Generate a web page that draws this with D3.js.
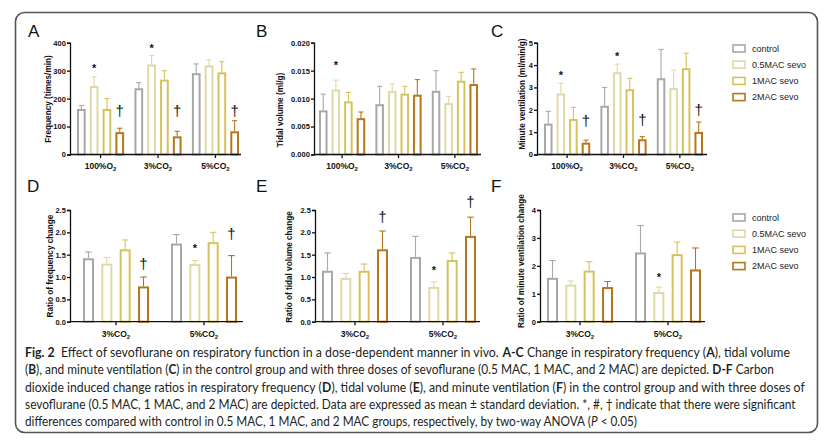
<!DOCTYPE html>
<html><head><meta charset="utf-8">
<script src="https://cdn.jsdelivr.net/npm/d3@7"></script>
<style>
body{margin:0;background:#fff;}
svg{display:block;}
.tick text{font-family:"Liberation Sans",Arial,sans-serif;font-weight:bold;font-size:7.5px;fill:#111;}
</style></head><body>
<svg id="c" width="827" height="443"></svg>
<script>
// ---------- DATA ----------
const series = ["control","0.5MAC sevo","1MAC sevo","2MAC sevo"];
const colors = ["#a8a8a8","#ded9a6","#d6c25c","#b4771d"];
const catsTop = ["100%O2","3%CO2","5%CO2"];
const catsBottom = ["3%CO2","5%CO2"];

// rows = series, columns = categories
const freqMean = [[163,237,291],[245,322,319],[163,268,294],[80,65,83]];
const freqSD   = [[12,20,33],[33,32,20],[37,32,38],[14,18,38]];
const tidalMean = [[0.0079,0.0090,0.0114],[0.0116,0.0114,0.0092],[0.0095,0.0109,0.0132],[0.0065,0.0107,0.0126]];
const tidalSD   = [[0.0029,0.0032,0.0036],[0.0017,0.0012,0.0012],[0.0016,0.0013,0.0015],[0.0011,0.0027,0.0027]];
const mvMean = [[1.38,2.18,3.41],[2.73,3.68,2.97],[1.59,2.92,3.86],[0.53,0.68,1.01]];
const mvSD   = [[0.55,0.82,1.29],[0.45,0.36,0.81],[0.52,0.49,0.67],[0.11,0.12,0.44]];
const rFreqMean = [[1.42,1.75],[1.30,1.29],[1.62,1.78],[0.79,1.01]];
const rFreqSD   = [[0.14,0.20],[0.14,0.08],[0.21,0.22],[0.21,0.47]];
const rTidalMean = [[1.14,1.45],[0.98,0.78],[1.14,1.38],[1.62,1.92]];
const rTidalSD   = [[0.40,0.46],[0.10,0.11],[0.15,0.16],[0.41,0.42]];
const rMvMean = [[1.57,2.48],[1.33,1.06],[1.83,2.42],[1.24,1.87]];
const rMvSD   = [[0.62,0.96],[0.13,0.18],[0.32,0.43],[0.20,0.77]];

const ticksA = [0,100,200,300,400];
const ticksB = [0,0.005,0.010,0.015,0.020];
const ticksC = [0,1,2,3,4,5];
const ticksD = [0,0.5,1.0,1.5,2.0,2.5];
const ticksE = [0,0.5,1.0,1.5,2.0,2.5];
const ticksF = [0,1,2,3,4];

// significance marks: category index, series index, symbol, level (data units)
const marksA = [[0,1,"*",319],[1,1,"*",388],[0,3,"†",154],[1,3,"†",154],[2,3,"†",154]];
const marksB = [[0,1,"*",0.0164]];
const marksC = [[0,1,"*",3.68],[1,1,"*",4.53],[0,3,"†",1.48],[1,3,"†",1.51],[2,3,"†",1.96]];
const marksD = [[0,3,"†",1.27],[1,1,"*",1.71],[1,3,"†",1.94]];
const marksE = [[0,3,"†",2.33],[1,1,"*",1.21],[1,3,"†",2.66]];
const marksF = [[1,1,"*",1.67]];

const captionLines = [
 [["Fig. 2","b"],["  Effect of sevoflurane on respiratory function in a dose-dependent manner in vivo. ",""],["A-C","b"],[" Change in respiratory frequency (",""],["A","b"],["), tidal volume",""]],
 [["(",""],["B","b"],["), and minute ventilation (",""],["C","b"],[") in the control group and with three doses of sevoflurane (0.5 MAC, 1 MAC, and 2 MAC) are depicted. ",""],["D-F","b"],[" Carbon",""]],
 [["dioxide induced change ratios in respiratory frequency (",""],["D","b"],["), tidal volume (",""],["E","b"],["), and minute ventilation (",""],["F","b"],[") in the control group and with three doses of",""]],
 [["sevoflurane (0.5 MAC, 1 MAC, and 2 MAC) are depicted. Data are expressed as mean ± standard deviation. *, #, † indicate that there were significant",""]],
 [["differences compared with control in 0.5 MAC, 1 MAC, and 2 MAC groups, respectively, by two-way ANOVA (",""],["P","i"],[" < 0.05)",""]]
];

// ---------- DRAW ----------
const svg = d3.select("#c");
const FONT = '"Liberation Sans", Arial, sans-serif';

svg.append("rect").attr("x",15.5).attr("y",12.5).attr("width",802).attr("height",420)
  .attr("rx",9).attr("fill","none").attr("stroke","#555").attr("stroke-width",1.6);

function catLabel(sel, c){
  sel.text(null);
  sel.append("tspan").text(c.slice(0,-1));
  sel.append("tspan").attr("font-size","6px").attr("dy","2.5").text(c.slice(-1));
}

function panel(o){
  const g = svg.append("g");
  const y = d3.scaleLinear().domain([o.ticks[0], o.ticks[o.ticks.length-1]]).range([o.yBot,o.yTop]);
  const x0 = d3.scaleBand().domain(o.cats).range([o.bandStart,o.bandEnd]).paddingInner(o.padG).paddingOuter(0);
  const x1 = d3.scaleBand().domain(d3.range(series.length)).range([0,x0.bandwidth()]).paddingInner(o.padS).paddingOuter(0);
  const bw = x1.bandwidth();
  o.mean.forEach((row,si)=>{
    row.forEach((v,ci)=>{
      const cx = x0(o.cats[ci]) + x1(si);
      const sd = o.sd[si][ci];
      const mid = cx + bw/2;
      g.append("line").attr("x1",mid).attr("x2",mid).attr("y1",y(v)).attr("y2",y(v+sd))
        .attr("stroke",colors[si]).attr("stroke-width",1.1);
      g.append("line").attr("x1",mid-bw*0.3).attr("x2",mid+bw*0.3).attr("y1",y(v+sd)).attr("y2",y(v+sd))
        .attr("stroke",colors[si]).attr("stroke-width",1.1);
      g.append("rect").attr("x",cx+1).attr("width",bw-2).attr("y",y(v)+1).attr("height",y(0)-y(v)-1)
        .attr("fill","#fff").attr("stroke",colors[si]).attr("stroke-width",2);
    });
  });
  o.marks.forEach(([ci,si,sym,lev])=>{
    const mid = x0(o.cats[ci]) + x1(si) + bw/2;
    const star = sym==="*";
    g.append("text").attr("x",mid).attr("y",y(lev) + (star?6.3:4.2))
      .attr("text-anchor","middle").attr("font-family",FONT)
      .attr("font-size", star?"11px":"15px").attr("font-weight", star?"bold":"normal")
      .attr("fill","#111").text(sym);
  });
  const ya = g.append("g").attr("transform",`translate(${o.axisX},0)`)
    .call(d3.axisLeft(y).tickValues(o.ticks).tickFormat(d3.format(o.fmt)).tickSize(3).tickPadding(1.2));
  ya.selectAll("path,line").attr("stroke","#111").attr("stroke-width",1.3);
  const xa = g.append("g").attr("transform",`translate(0,${o.yBot})`);
  xa.append("line").attr("x1",o.axisX).attr("x2",o.axisEnd).attr("stroke","#111").attr("stroke-width",1.3);
  o.cats.forEach(c=>{
    const cx = x0(c)+x0.bandwidth()/2;
    xa.append("line").attr("x1",cx).attr("x2",cx).attr("y1",0).attr("y2",3.5).attr("stroke","#111").attr("stroke-width",1.3);
    xa.append("text").attr("x",cx).attr("y",o.labelDy).attr("text-anchor","middle")
      .attr("font-family",FONT).attr("font-weight","bold").attr("font-size","8.5px").attr("fill","#111")
      .call(catLabel,c);
  });
  g.append("text").attr("transform",`translate(${o.titleX},${o.titleY})rotate(-90)`)
    .attr("text-anchor","middle").attr("font-family",FONT).attr("font-weight","bold")
    .attr("font-size","8.2px").attr("fill","#111").text(o.title);
  g.append("text").attr("x",o.letterX).attr("y",o.letterY).attr("font-family",FONT)
    .attr("font-size","17px").attr("fill","#111").text(o.letter);
}

const topRow = {yTop:42.7, yBot:154.5, padG:0.18, padS:0.32, labelDy:14, letterY:37};
const botRow = {yTop:210, yBot:321.7, padG:0.25, padS:0.4, labelDy:15, letterY:192};

panel(Object.assign({},topRow,{letter:"A",letterX:28,cats:catsTop,mean:freqMean,sd:freqSD,ticks:ticksA,fmt:"d",
  axisX:70,axisEnd:241,bandStart:77,bandEnd:239,title:"Frequency  (times/min)",titleX:50.5,titleY:99,marks:marksA}));
panel(Object.assign({},topRow,{letter:"B",letterX:256,cats:catsTop,mean:tidalMean,sd:tidalSD,ticks:ticksB,fmt:".3f",
  axisX:314,axisEnd:481,bandStart:319,bandEnd:478,title:"Tidal volume  (ml/g)",titleX:283,titleY:110,marks:marksB}));
panel(Object.assign({},topRow,{letter:"C",letterX:491,cats:catsTop,mean:mvMean,sd:mvSD,ticks:ticksC,fmt:"d",
  axisX:537,axisEnd:707,bandStart:544,bandEnd:703,title:"Minute ventilation (ml/min/g)",titleX:524.5,titleY:94,marks:marksC}));
panel(Object.assign({},botRow,{letter:"D",letterX:27,cats:catsBottom,mean:rFreqMean,sd:rFreqSD,ticks:ticksD,fmt:".1f",
  axisX:70,axisEnd:243,bandStart:83,bandEnd:237,title:"Ratio of frequency change",titleX:52.5,titleY:266,marks:marksD}));
panel(Object.assign({},botRow,{letter:"E",letterX:256,cats:catsBottom,mean:rTidalMean,sd:rTidalSD,ticks:ticksE,fmt:".1f",
  axisX:315,axisEnd:480,bandStart:322,bandEnd:476,title:"Ratio of tidal volume change",titleX:292,titleY:267,marks:marksE}));
panel(Object.assign({},botRow,{letter:"F",letterX:491,cats:catsBottom,mean:rMvMean,sd:rMvSD,ticks:ticksF,fmt:"d",
  axisX:540,axisEnd:705,bandStart:547,bandEnd:701,title:"Ratio of minute ventilation change",titleX:523.5,titleY:261,marks:marksF}));

function legend(y0){
  const lg = svg.append("g");
  series.forEach((s,i)=>{
    const yy = y0 + i*16.2;
    lg.append("rect").attr("x",733).attr("y",yy-3.5).attr("width",12).attr("height",7)
      .attr("fill","#fff").attr("stroke",colors[i]).attr("stroke-width",1.6);
    lg.append("text").attr("x",752).attr("y",yy+3.3).attr("font-family",FONT)
      .attr("font-size","9px").attr("fill","#222").text(s);
  });
}
legend(48.5);
legend(217.5);

// caption: each styled run is its own text element; each line is scaled horizontally to its measured width
const capWidths = [765,749,780,772,612];
const capFont = 'Lato,"Noto Sans",sans-serif';
captionLines.forEach((segs,i)=>{
  const lineG = svg.append("g");
  const els = segs.map(([str,st])=>{
    const t = lineG.append("text").attr("y",0).attr("font-family",capFont).attr("font-size","13px")
      .attr("fill","#231f20").style("white-space","pre").text(str);
    if(st==="b") t.attr("font-weight","bold");
    if(st==="i") t.attr("font-style","italic");
    return t;
  });
  const widths = els.map(t=>t.node().getComputedTextLength());
  const k = capWidths[i]/d3.sum(widths);
  let x = 0;
  els.forEach((t,j)=>{ t.attr("x",x); x += widths[j]; });
  lineG.attr("transform",`translate(25,${357 + i*17.3}) scale(${k},1)`);
});
</script></body></html>
